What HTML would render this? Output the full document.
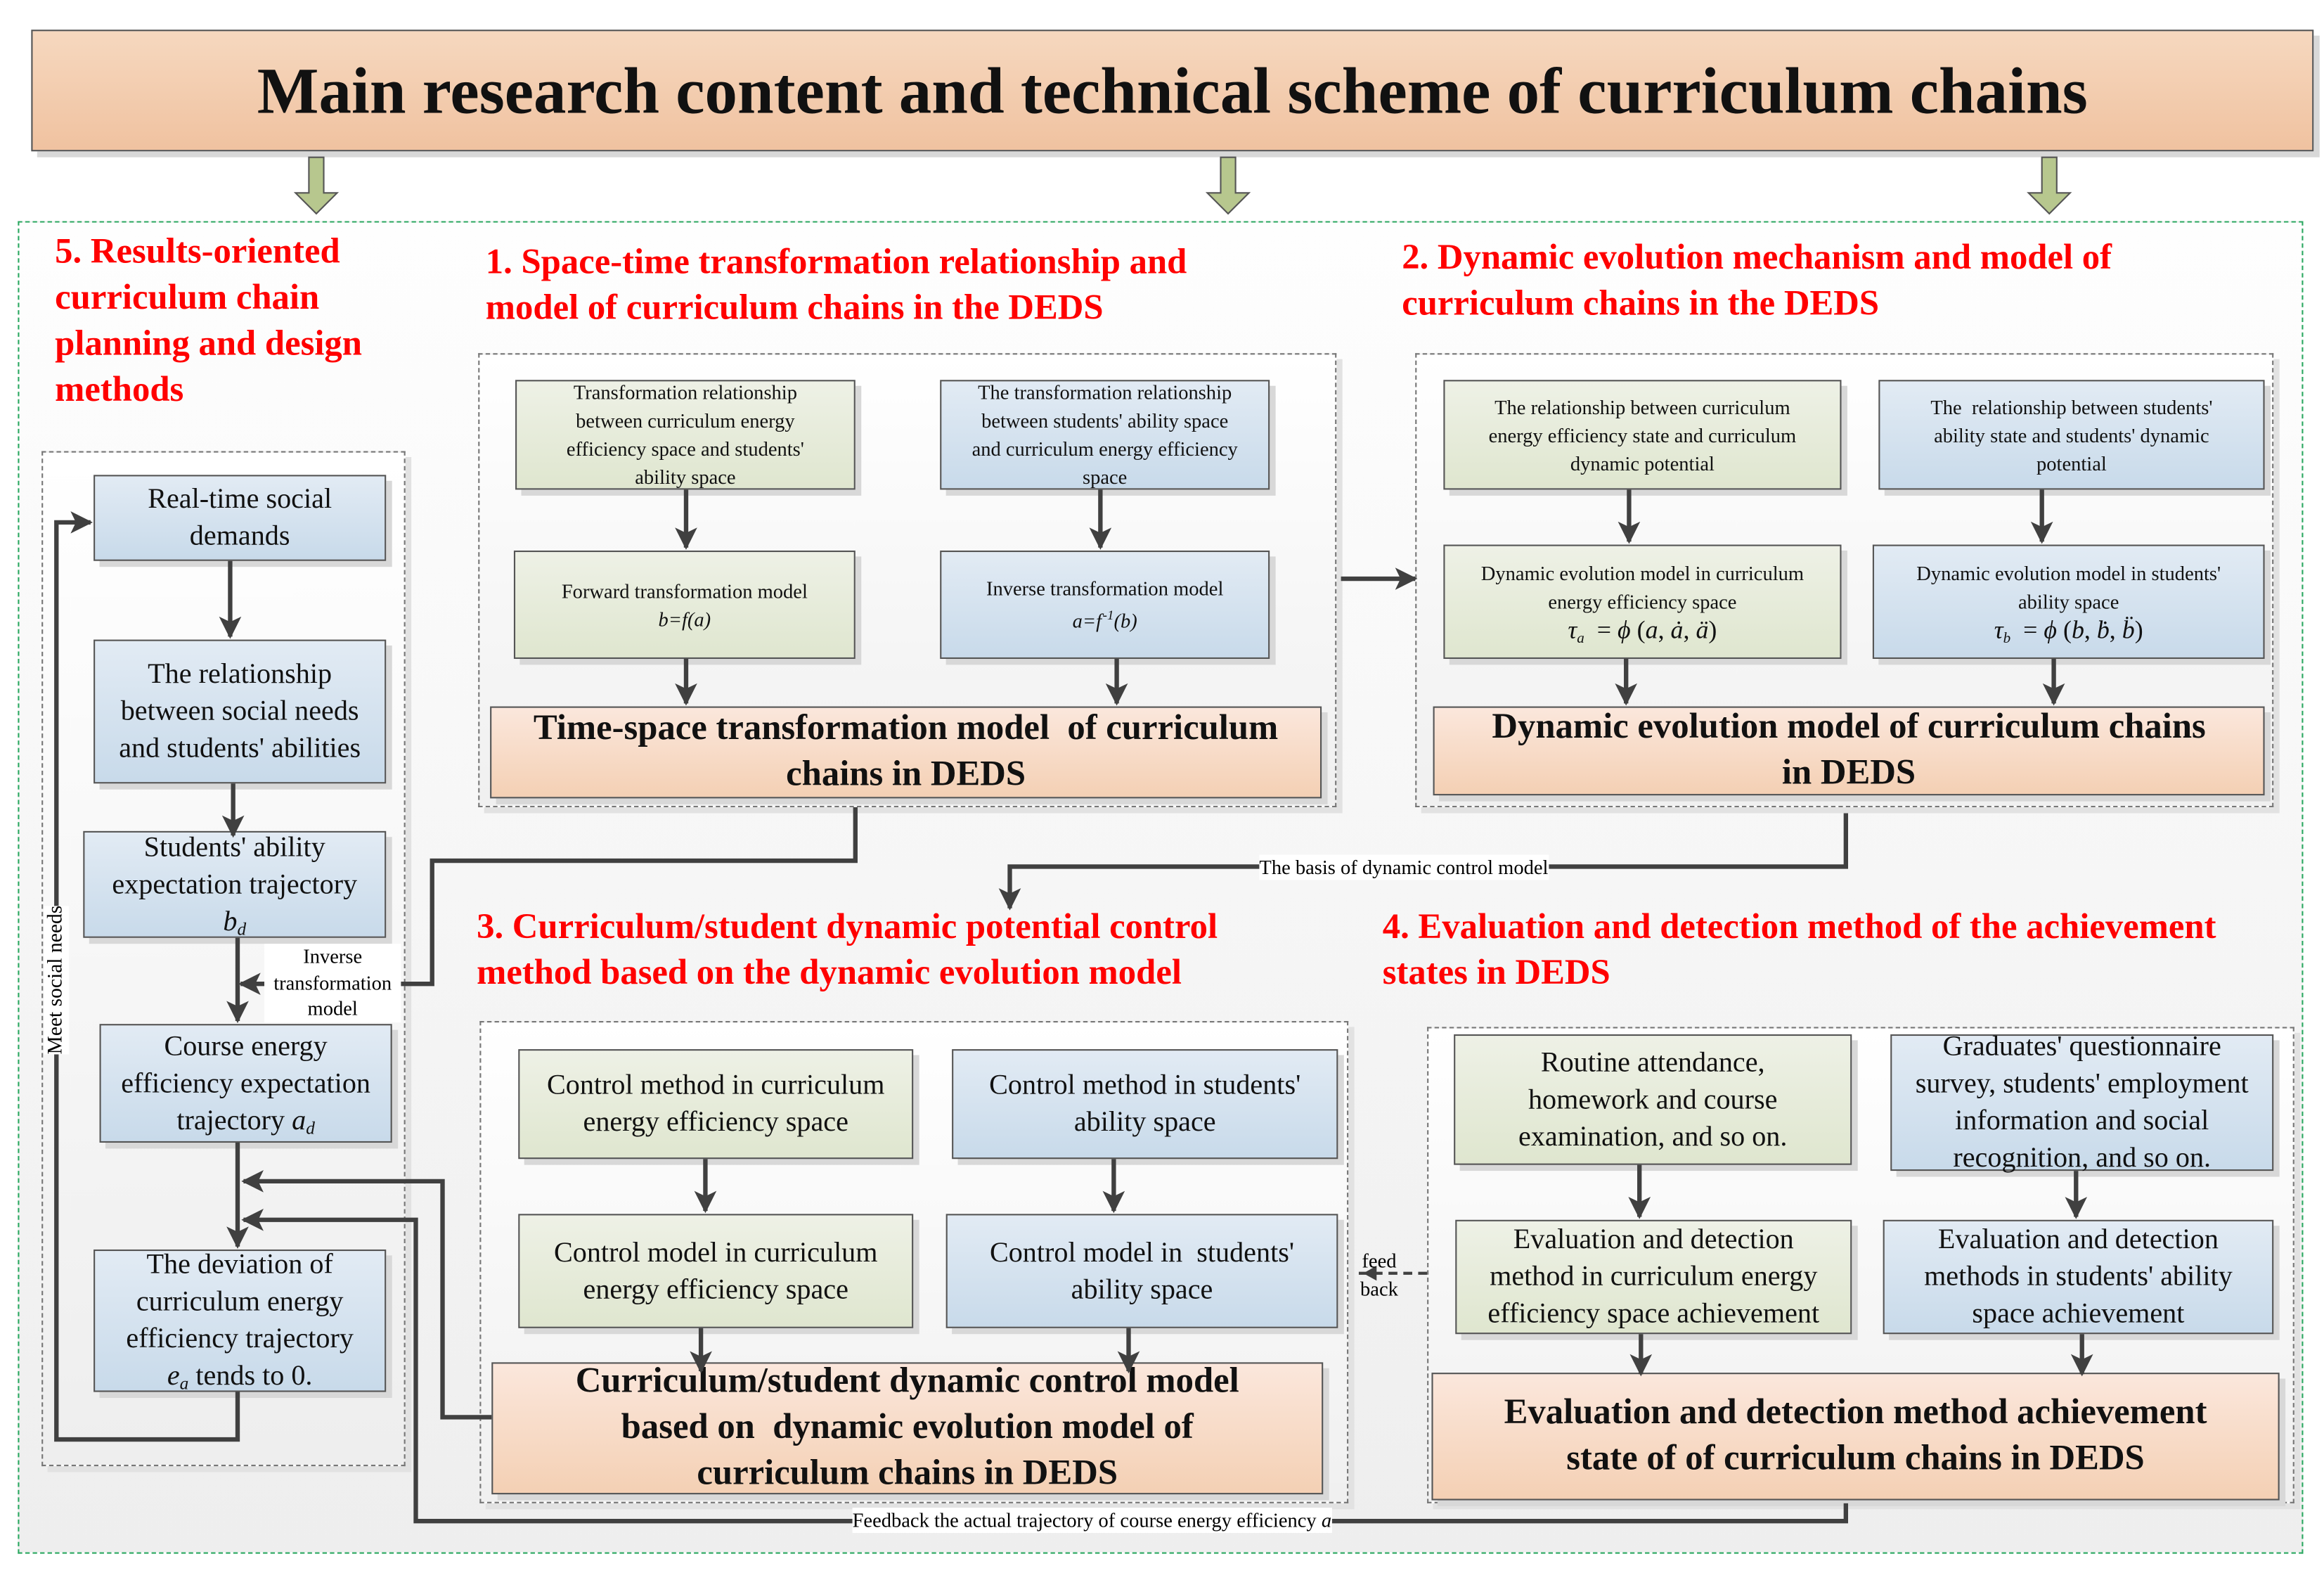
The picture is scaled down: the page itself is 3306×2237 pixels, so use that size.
<!DOCTYPE html>
<html><head><meta charset="utf-8">
<style>
html,body{margin:0;padding:0;background:#fff;}
body{width:3306px;height:2237px;overflow:hidden;position:relative;}
#w{position:absolute;left:0;top:0;width:1565px;height:1060px;transform-origin:0 0;transform:scale(2.1125,2.1104);font-family:"Liberation Serif","DejaVu Serif",serif;}
.a{position:absolute;box-sizing:border-box;}
.box{position:absolute;box-sizing:border-box;border:1px solid #555;display:flex;align-items:center;justify-content:center;text-align:center;box-shadow:4px 4px 0 #d8d8d8;color:#111;white-space:nowrap;}
.box>div{display:block;}
.g{background:linear-gradient(#eef1e6,#dfe6cf);}
.b{background:linear-gradient(#e2ebf4,#c8daea);}
.o{background:linear-gradient(#fbe7dc,#f4d0b4);font-weight:bold;font-size:24px;line-height:31px;}
.s{font-size:13.5px;line-height:19px;}
.m{font-size:19px;line-height:25px;}
.dash{position:absolute;box-sizing:border-box;border:1px dashed #777;box-shadow:4px 4px 0 #e2e2e2;}
.red{position:absolute;color:#f00;font-weight:bold;font-size:24px;line-height:31px;white-space:nowrap;}
.lbl{position:absolute;background:#fff;font-size:13.5px;line-height:17px;text-align:center;white-space:nowrap;}
sub{font-size:12px;vertical-align:-3px;line-height:0;}
</style></head><body>
<div id="w">
<div class="a" style="left:12px;top:149px;width:1539px;height:898px;border:1px dashed #2aa860;background:linear-gradient(#fefefe,#eeeeee);"></div>
<div class="box" style="left:21px;top:20px;width:1537px;height:82px;background:linear-gradient(#f6d8bf,#f0c2a0);font-weight:bold;font-size:44px;"><div>Main research content and technical scheme of curriculum chains</div></div>

<svg class="a" style="left:0;top:0" width="1565" height="1060" viewBox="0 0 1565 1060">
<g fill="#b7c78e" stroke="#555" stroke-width="1">
<path d="M208 106h10v24h9l-14 14l-14-14h9z"/>
<path d="M822 106h10v24h9l-14 14l-14-14h9z"/>
<path d="M1375 106h10v24h9l-14 14l-14-14h9z"/>
</g>
</svg>

<div class="red" style="left:37px;top:155px;">5. Results-oriented<br>curriculum chain<br>planning and design<br>methods</div>
<div class="red" style="left:327px;top:162px;">1. Space-time transformation relationship and<br>model of curriculum chains in the DEDS</div>
<div class="red" style="left:944px;top:159px;">2. Dynamic evolution mechanism and model of<br>curriculum chains in the DEDS</div>
<div class="red" style="left:321px;top:610px;">3. Curriculum/student dynamic potential control<br>method based on the dynamic evolution model</div>
<div class="red" style="left:931px;top:610px;">4. Evaluation and detection method of the achievement<br>states in DEDS</div>

<div class="dash" style="left:28px;top:304px;width:245px;height:684px;background:linear-gradient(#fff,#eee);"></div>
<div class="dash" style="left:322px;top:238px;width:578px;height:306px;background:linear-gradient(#fff,#f0f0f0);"></div>
<div class="dash" style="left:953px;top:238px;width:578px;height:306px;background:linear-gradient(#fff,#f0f0f0);"></div>
<div class="dash" style="left:323px;top:688px;width:585px;height:325px;background:linear-gradient(#fff,#f0f0f0);"></div>
<div class="dash" style="left:961px;top:692px;width:584px;height:321px;background:linear-gradient(#fff,#f0f0f0);"></div>

<!-- left column -->
<div class="box b m" style="left:63px;top:320px;width:197px;height:58px;"><div>Real-time social<br>demands</div></div>
<div class="box b m" style="left:63px;top:431px;width:197px;height:97px;"><div>The relationship<br>between social needs<br>and students' abilities</div></div>
<div class="box b m" style="left:56px;top:560px;width:204px;height:72px;"><div>Students' ability<br>expectation trajectory<br><i>b<sub>d</sub></i></div></div>
<div class="box b m" style="left:67px;top:690px;width:197px;height:80px;"><div>Course energy<br>efficiency expectation<br>trajectory <i>a<sub>d</sub></i></div></div>
<div class="box b m" style="left:63px;top:842px;width:197px;height:96px;"><div>The deviation of<br>curriculum energy<br>efficiency trajectory<br><i>e<sub>a</sub></i> tends to 0.</div></div>

<!-- sec1 -->
<div class="box g s" style="left:347px;top:256px;width:229px;height:74px;"><div>Transformation relationship<br>between curriculum energy<br>efficiency space and students'<br>ability space</div></div>
<div class="box b s" style="left:633px;top:256px;width:222px;height:74px;"><div>The transformation relationship<br>between students' ability space<br>and curriculum energy efficiency<br>space</div></div>
<div class="box g s" style="left:346px;top:371px;width:230px;height:73px;"><div>Forward transformation model<br><i>b=f(a)</i></div></div>
<div class="box b s" style="left:633px;top:371px;width:222px;height:73px;"><div>Inverse transformation model<br><i>a=f<sup style="font-size:9px">&#8202;-1</sup>(b)</i></div></div>
<div class="box o" style="left:330px;top:476px;width:560px;height:62px;"><div>Time-space transformation model&nbsp; of curriculum<br>chains in DEDS</div></div>

<!-- sec2 -->
<div class="box g s" style="left:972px;top:256px;width:268px;height:74px;"><div>The relationship between curriculum<br>energy efficiency state and curriculum<br>dynamic potential</div></div>
<div class="box b s" style="left:1265px;top:256px;width:260px;height:74px;"><div>The&nbsp; relationship between students'<br>ability state and students' dynamic<br>potential</div></div>
<div class="box g s" style="left:972px;top:367px;width:268px;height:77px;"><div>Dynamic evolution model in curriculum<br>energy efficiency space<br><span style="font-size:17px"><i>τ<sub style="font-size:10px">a</sub></i> &nbsp;= <i>ϕ</i> (<i>a</i>, <i>ȧ</i>, <i>ä</i>)</span></div></div>
<div class="box b s" style="left:1261px;top:367px;width:264px;height:77px;"><div>Dynamic evolution model in students'<br>ability space<br><span style="font-size:17px"><i>τ<sub style="font-size:10px">b</sub></i> &nbsp;= <i>ϕ</i> (<i>b</i>, <i>ḃ</i>, <i>b̈</i>)</span></div></div>
<div class="box o" style="left:965px;top:476px;width:560px;height:60px;"><div>Dynamic evolution model of curriculum chains<br>in DEDS</div></div>

<!-- sec3 -->
<div class="box g m" style="left:349px;top:707px;width:266px;height:74px;"><div>Control method in curriculum<br>energy efficiency space</div></div>
<div class="box b m" style="left:641px;top:707px;width:260px;height:74px;"><div>Control method in students'<br>ability space</div></div>
<div class="box g m" style="left:349px;top:818px;width:266px;height:77px;"><div>Control model in curriculum<br>energy efficiency space</div></div>
<div class="box b m" style="left:637px;top:818px;width:264px;height:77px;"><div>Control model in&nbsp; students'<br>ability space</div></div>
<div class="box o" style="left:331px;top:918px;width:560px;height:89px;"><div>Curriculum/student dynamic control model<br>based on&nbsp; dynamic evolution model of<br>curriculum chains in DEDS</div></div>

<!-- sec4 -->
<div class="box g m" style="left:979px;top:697px;width:268px;height:88px;"><div>Routine attendance,<br>homework and course<br>examination, and so on.</div></div>
<div class="box b m" style="left:1273px;top:697px;width:258px;height:92px;"><div>Graduates' questionnaire<br>survey, students' employment<br>information and social<br>recognition, and so on.</div></div>
<div class="box g m" style="left:980px;top:822px;width:267px;height:77px;"><div>Evaluation and detection<br>method in curriculum energy<br>efficiency space achievement</div></div>
<div class="box b m" style="left:1268px;top:822px;width:263px;height:77px;"><div>Evaluation and detection<br>methods in students' ability<br>space achievement</div></div>
<div class="box o" style="left:964px;top:925px;width:571px;height:86px;"><div>Evaluation and detection method achievement<br>state of of curriculum chains in DEDS</div></div>

<svg class="a" style="left:0;top:0" width="1565" height="1060" viewBox="0 0 1565 1060">
<defs><marker id="ar" markerWidth="5" markerHeight="5" refX="4.5" refY="2.5" orient="auto" markerUnits="strokeWidth"><path d="M0,0L5,2.5L0,5L1.2,2.5z" fill="#404040"/></marker></defs>
<g stroke="#404040" stroke-width="3" fill="none" marker-end="url(#ar)">
<path d="M462 330V369"/><path d="M741 330V369"/><path d="M462 444V474"/><path d="M752 444V474"/>
<path d="M1097 330V365"/><path d="M1375 330V365"/><path d="M1095 444V474"/><path d="M1383 444V474"/>
<path d="M903 390H953"/>
<path d="M475 781V816"/><path d="M750 781V816"/><path d="M472 895V924"/><path d="M760 895V924"/>
<path d="M1104 785V820"/><path d="M1398 789V820"/><path d="M1105 899V926"/><path d="M1402 899V926"/>
<path d="M155 378V429"/><path d="M157 528V563"/><path d="M160 632V688"/><path d="M160 770V840"/>
<path d="M576 544V580H291V663H162"/>
<path d="M1243 548V584H680V612"/>
<path d="M331 955H298V796H164"/>
<path d="M1243 1013V1025H280V822H164"/>
<path d="M160 938V970H38V352H61"/>
</g>
<path d="M961 858H915" stroke="#404040" stroke-width="2" stroke-dasharray="6 4" fill="none"/>
<path d="M918 858l9-5v10z" fill="#404040"/>
</svg>

<div class="lbl" style="left:178px;top:636px;width:92px;line-height:17.5px;">Inverse<br>transformation<br>model</div>
<div class="lbl" style="left:848px;top:576px;">The basis of dynamic control model</div>
<div class="lbl" style="left:574px;top:1016px;">Feedback the actual trajectory of course energy efficiency <i>a</i></div>
<div class="lbl" style="left:916px;top:840px;background:transparent;line-height:19px;">feed<br>back</div>
<div class="lbl" style="left:-12px;top:652px;width:100px;transform:rotate(-90deg);transform-origin:50% 50%;font-size:14px;">Meet social needs</div>
</div>
</body></html>
